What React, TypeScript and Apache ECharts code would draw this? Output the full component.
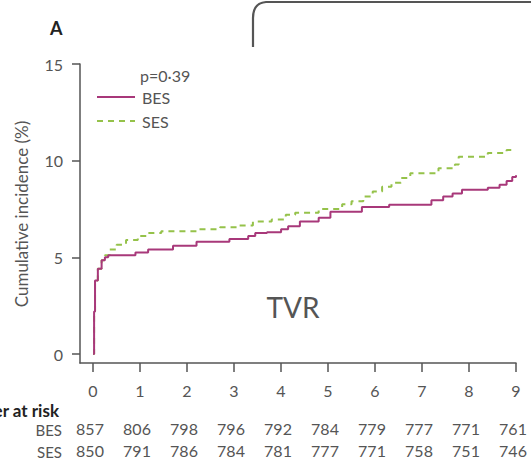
import React, { useEffect, useRef } from "react";
import * as echarts from "echarts";

const years = [0, 1, 2, 3, 4, 5, 6, 7, 8, 9];
const besRisk = [857, 806, 798, 796, 792, 784, 779, 777, 771, 761];
const sesRisk = [850, 791, 786, 784, 781, 777, 771, 758, 751, 746];

const besCurve: [number, number][] = [
  [0, 0], [0.02, 2.2], [0.04, 3.8], [0.1, 4.4], [0.18, 4.85], [0.25, 5.0],
  [0.32, 5.1], [0.9, 5.25], [1.17, 5.4], [1.7, 5.6], [2.2, 5.8], [2.9, 5.95],
  [3.3, 6.1], [3.45, 6.25], [3.7, 6.3], [4.0, 6.45], [4.15, 6.6], [4.4, 6.85],
  [4.8, 7.05], [5.05, 7.35], [5.72, 7.6], [6.3, 7.72], [7.2, 7.95], [7.45, 8.15],
  [7.65, 8.3], [7.85, 8.5], [8.4, 8.6], [8.65, 8.75], [8.8, 8.95], [8.92, 9.15],
  [9.0, 9.25],
];

const sesCurve: [number, number][] = [
  [0, 0], [0.02, 2.2], [0.04, 3.8], [0.1, 4.4], [0.18, 4.85], [0.25, 5.1],
  [0.35, 5.4], [0.5, 5.65], [0.7, 5.9], [0.95, 6.1], [1.17, 6.25], [1.45, 6.35],
  [2.2, 6.45], [2.7, 6.55], [3.1, 6.65], [3.4, 6.85], [3.8, 6.95], [4.1, 7.2],
  [4.3, 7.3], [4.8, 7.5], [5.3, 7.75], [5.5, 7.9], [5.75, 8.15], [5.95, 8.4],
  [6.15, 8.65], [6.35, 8.85], [6.55, 9.1], [6.75, 9.35], [7.35, 9.6], [7.7, 9.8],
  [7.78, 10.2], [8.4, 10.4], [8.8, 10.55], [9.0, 10.55],
];

const GREY = "#555555";
const BES_COLOR = "#a8387a";
const SES_COLOR = "#95c24a";
const FONT = "Lato";

echarts.graphic.registerShape(
  "bracket",
  echarts.graphic.extendPath("M253,47 L253,18 Q253,3 266,2 L531,2", {})
);

export default function App() {
  const ref = useRef<HTMLDivElement>(null);

  useEffect(() => {
    if (!ref.current) return;
    const chart = echarts.init(ref.current, undefined, { renderer: "svg" });

    const riskAxis = (values: number[], offset: number) => ({
      type: "value",
      gridIndex: 1,
      position: "bottom",
      offset,
      min: 0,
      max: 9,
      interval: 1,
      axisLine: { show: false, onZero: false },
      axisTick: { show: false },
      splitLine: { show: false },
      axisLabel: {
        formatter: (v: number) => String(values[Math.round(v)]),
        color: GREY,
        fontFamily: FONT,
        fontSize: 16,
        margin: 0,
        padding: [0, 6, 0, 0],
      },
    });

    chart.setOption({
      animation: false,
      grid: [
        { left: 80, right: 15, top: 64, bottom: 99, containLabel: false, outerBoundsMode: "none" },
        { left: 93, right: 15, top: 64, bottom: 99, containLabel: false, outerBoundsMode: "none" },
        { left: 80, right: 15, top: 64, bottom: 108, containLabel: false, outerBoundsMode: "none" },
      ],
      xAxis: [
        {
          type: "value",
          gridIndex: 0,
          min: -0.28,
          max: 9,
          axisLine: { show: true, onZero: false, lineStyle: { color: GREY, width: 1.5 } },
          axisTick: { show: false },
          axisLabel: { show: false },
          splitLine: { show: false },
        },
        {
          type: "value",
          gridIndex: 1,
          min: 0,
          max: 9,
          interval: 1,
          axisLine: { show: false, onZero: false },
          axisTick: { show: true, length: 9, lineStyle: { color: GREY, width: 1.5 } },
          splitLine: { show: false },
          axisLabel: {
            color: GREY,
            fontFamily: FONT,
            fontSize: 16,
            margin: 19,
          },
        },
        riskAxis(besRisk, 57),
        riskAxis(sesRisk, 79),
        {
          type: "value",
          gridIndex: 2,
          min: 0,
          max: 1,
          show: false,
        },
      ],
      yAxis: [
        {
          type: "value",
          gridIndex: 0,
          min: -0.47,
          max: 15,
          axisLine: { show: true, onZero: false, lineStyle: { color: GREY, width: 1.5 } },
          axisTick: { show: false },
          axisLabel: { show: false },
          splitLine: { show: false },
        },
        {
          type: "value",
          gridIndex: 1,
          min: 0,
          max: 1,
          show: false,
        },
        {
          type: "value",
          gridIndex: 2,
          min: 0,
          max: 15,
          interval: 5,
          axisLine: { show: false, onZero: false },
          axisTick: { show: true, length: 8, lineStyle: { color: GREY, width: 1.5 } },
          splitLine: { show: false },
          axisLabel: {
            color: GREY,
            fontFamily: FONT,
            fontSize: 16,
            margin: 17,
          },
        },
      ],
      series: [
        {
          name: "BES",
          type: "line",
          xAxisIndex: 0,
          yAxisIndex: 0,
          step: "end",
          data: besCurve,
          showSymbol: false,
          lineStyle: { color: BES_COLOR, width: 2 },
          z: 3,
        },
        {
          name: "SES",
          type: "line",
          xAxisIndex: 0,
          yAxisIndex: 0,
          step: "end",
          data: sesCurve,
          showSymbol: false,
          lineStyle: { color: SES_COLOR, width: 2, type: [6, 5] },
          z: 2,
        },
      ],
      graphic: [
        { type: "text", x: 50, y: 19, style: { text: "A", fontFamily: FONT, fontWeight: "bold", fontSize: 18, fill: "#222" } },
        { type: "bracket", shape: {}, style: { stroke: GREY, lineWidth: 2.2, fill: "none" } },
        { type: "text", x: 140, y: 75, style: { text: "p=0·39", fontFamily: FONT, fontSize: 16, fill: GREY, verticalAlign: "middle" } },
        { type: "line", shape: { x1: 97, y1: 97, x2: 135, y2: 97 }, style: { stroke: BES_COLOR, lineWidth: 2 } },
        { type: "text", x: 142, y: 97, style: { text: "BES", fontFamily: FONT, fontSize: 16, fill: GREY, verticalAlign: "middle" } },
        { type: "line", shape: { x1: 97, y1: 121, x2: 135, y2: 121 }, style: { stroke: SES_COLOR, lineWidth: 2, lineDash: [6, 5] } },
        { type: "text", x: 142, y: 121, style: { text: "SES", fontFamily: FONT, fontSize: 16, fill: GREY, verticalAlign: "middle" } },
        { type: "text", x: 21, y: 214, rotation: Math.PI / 2, style: { text: "Cumulative incidence (%)", fontFamily: FONT, fontSize: 17, fill: GREY, align: "center", verticalAlign: "middle" } },
        { type: "text", x: 293, y: 307, style: { text: "TVR", fontFamily: FONT, fontSize: 28, fill: GREY, align: "center", verticalAlign: "middle" } },
        { type: "text", x: 59, y: 410, style: { text: "Number at risk", fontFamily: FONT, fontWeight: "bold", fontSize: 17, fill: "#222", align: "right", verticalAlign: "middle" } },
        { type: "text", x: 62, y: 430, style: { text: "BES", fontFamily: FONT, fontSize: 15, fill: GREY, align: "right", verticalAlign: "middle" } },
        { type: "text", x: 62, y: 452, style: { text: "SES", fontFamily: FONT, fontSize: 15, fill: GREY, align: "right", verticalAlign: "middle" } },
      ],
    });

    return () => chart.dispose();
  }, []);

  return (
    <div
      ref={ref}
      style={{ position: "fixed", left: 0, top: 0, width: 531, height: 462, background: "#fff" }}
    />
  );
}
